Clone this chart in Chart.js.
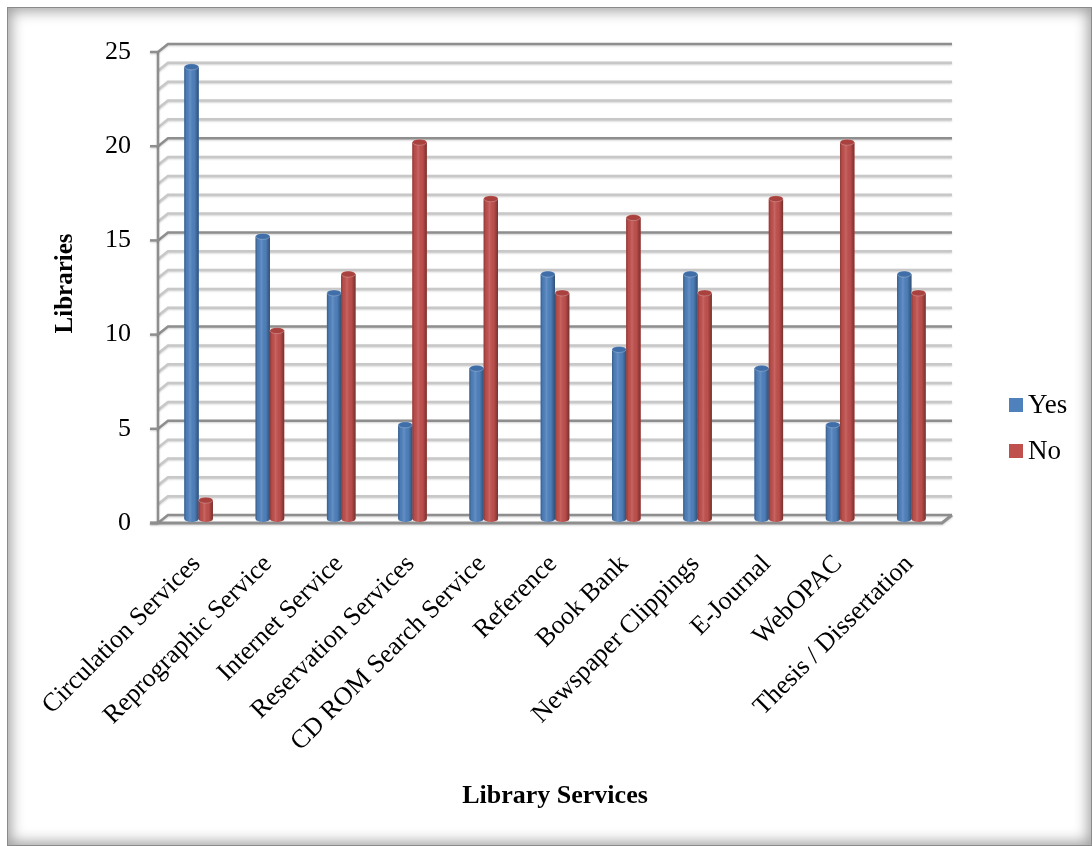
<!DOCTYPE html>
<html>
<head>
<meta charset="utf-8">
<script src="https://cdn.jsdelivr.net/npm/chart.js@4.4.1/dist/chart.umd.min.js"></script>
<style>
  html, body { margin: 0; padding: 0; background: #fff; }
  #wrap { position: relative; width: 1092px; height: 846px; overflow: hidden; }
  #frame {
    position: absolute; left: 7px; top: 7px; width: 1083px; height: 837px;
    border: 1px solid #8a8a8a;
    box-shadow: inset 0 0 14px 3px rgba(0, 0, 0, 0.38);
  }
  canvas { position: absolute; left: 0; top: 0; }
</style>
</head>
<body>
<div id="wrap">
  <div id="frame"></div>
  <canvas id="chart" width="1092" height="846"></canvas>
</div>
<script>
const services = [
  "Circulation Services", "Reprographic Service", "Internet Service",
  "Reservation Services", "CD ROM Search Service", "Reference", "Book Bank",
  "Newspaper Clippings", "E-Journal", "WebOPAC", "Thesis / Dissertation"
];
const yesLibraries = [24, 15, 12, 5, 8, 13, 9, 13, 8, 5, 13];
const noLibraries = [1, 10, 13, 20, 17, 12, 16, 12, 17, 20, 12];
const yMin = 0, yMax = 25, yStep = 5;

const serif = "'Liberation Serif', 'Times New Roman', serif";
// half the depth of the 3D box: front plane sits at (-dx, +dy), back wall at (+dx, -dy)
const dx = 5, dy = 4;

// back wall, left wall, floor and front axis
const walls = {
  id: "walls",
  beforeDatasetsDraw(chart) {
    const { ctx, chartArea: a, scales: { y } } = chart;
    ctx.save();
    ctx.lineCap = "butt";
    ctx.shadowColor = "rgba(0,0,0,0.18)";
    ctx.shadowBlur = 2;
    ctx.shadowOffsetY = 1;
    for (let v = y.min; v <= y.max; v++) {
      const py = y.getPixelForValue(v);
      ctx.strokeStyle = v % yStep === 0 ? "#8e8e8e" : "#c8c8c8";
      ctx.lineWidth = 2.5;
      ctx.beginPath();
      ctx.moveTo(a.left - dx, py + dy);
      ctx.lineTo(a.left + dx, py - dy);
      ctx.lineTo(a.right + dx, py - dy);
      ctx.stroke();
    }
    const top = y.getPixelForValue(y.max), zero = y.getPixelForValue(0);
    ctx.strokeStyle = "#8e8e8e";
    ctx.lineWidth = 2.5;
    ctx.beginPath();
    ctx.moveTo(a.left - dx, top + dy);
    ctx.lineTo(a.left - dx, zero + dy);
    ctx.stroke();
    for (let v = y.min; v <= y.max; v += yStep) {
      const py = y.getPixelForValue(v) + dy;
      ctx.beginPath();
      ctx.moveTo(a.left - dx - 8, py);
      ctx.lineTo(a.left - dx, py);
      ctx.stroke();
    }
    // floor front edge and right edge
    ctx.lineWidth = 3;
    ctx.beginPath();
    ctx.moveTo(a.left - dx - 8, zero + dy);
    ctx.lineTo(a.right - dx, zero + dy);
    ctx.lineTo(a.right + dx, zero - dy);
    ctx.stroke();
    ctx.restore();
  }
};

// cylinder shading and caps on top of the flat bars
const cylinders = {
  id: "cylinders",
  afterDatasetsDraw(chart) {
    const { ctx } = chart;
    ctx.save();
    chart.data.datasets.forEach((ds, di) => {
      chart.getDatasetMeta(di).data.forEach(bar => {
        const { x, y, base, width } = bar.getProps(["x", "y", "base", "width"], true);
        const l = x - width / 2, r = x + width / 2, ry = 3;
        ctx.beginPath();
        ctx.moveTo(l, y);
        ctx.lineTo(l, base);
        ctx.ellipse(x, base, width / 2, ry, 0, Math.PI, 0, true);
        ctx.lineTo(r, y);
        ctx.closePath();
        ctx.fillStyle = ds.backgroundColor;
        ctx.fill();
        const g = ctx.createLinearGradient(l, 0, r, 0);
        g.addColorStop(0, "rgba(0,0,0,0.28)");
        g.addColorStop(0.15, "rgba(0,0,0,0.04)");
        g.addColorStop(0.4, "rgba(255,255,255,0.12)");
        g.addColorStop(0.7, "rgba(0,0,0,0.02)");
        g.addColorStop(1, "rgba(0,0,0,0.38)");
        ctx.fillStyle = g;
        ctx.fill();
        ctx.beginPath();
        ctx.ellipse(x, y, width / 2, ry, 0, 0, Math.PI * 2);
        ctx.fillStyle = ds.capColor;
        ctx.fill();
        ctx.strokeStyle = "rgba(255,255,255,0.25)";
        ctx.lineWidth = 1;
        ctx.stroke();
      });
    });
    ctx.restore();
  }
};

// legend to the right of the walls
const sideLegend = {
  id: "sideLegend",
  afterDraw(chart) {
    const { ctx, chartArea: a } = chart;
    ctx.save();
    ctx.font = "27px " + serif;
    ctx.textBaseline = "middle";
    ctx.textAlign = "left";
    chart.data.datasets.forEach((ds, i) => {
      const cy = 405 + i * 46;
      ctx.fillStyle = ds.backgroundColor;
      ctx.fillRect(a.right + 62, cy - 7, 14, 14);
      ctx.fillStyle = "#000";
      ctx.fillText(ds.label, a.right + 81, cy + 1);
    });
    ctx.restore();
  }
};

new Chart(document.getElementById("chart"), {
  type: "bar",
  data: {
    labels: services,
    datasets: [{
      label: "Yes",
      data: yesLibraries,
      backgroundColor: "#4f81bd",
      capColor: "#3f6ea8"
    }, {
      label: "No",
      data: noLibraries,
      backgroundColor: "#c0504d",
      capColor: "#a9413e"
    }]
  },
  options: {
    responsive: false,
    animation: false,
    events: [],
    layout: { padding: { left: 0, right: 145, top: 48, bottom: 0 } },
    datasets: { bar: { categoryPercentage: 0.4, barPercentage: 1, borderWidth: 0 } },
    plugins: {
      legend: { display: false },
      tooltip: { enabled: false }
    },
    scales: {
      x: {
        grid: { display: false },
        border: { display: false },
        ticks: {
          autoSkip: false,
          minRotation: 45,
          maxRotation: 45,
          padding: 22,
          labelOffset: -2,
          color: "#000",
          font: { family: serif, size: 26 }
        },
        title: {
          display: true,
          text: "Library Services",
          color: "#000",
          padding: { top: 0, bottom: 34 },
          font: { family: serif, size: 26, weight: "bold" }
        },
        afterFit(scale) { scale.height = 327; }
      },
      y: {
        min: yMin,
        max: yMax,
        grid: { display: false },
        border: { display: false },
        ticks: {
          stepSize: yStep,
          padding: 24,
          labelOffset: dy,
          color: "#000",
          font: { family: serif, size: 26 }
        },
        title: {
          display: true,
          text: "Libraries",
          color: "#000",
          padding: { top: 51, bottom: 0 },
          font: { family: serif, size: 25, weight: "bold" }
        },
        afterFit(scale) { scale.width = 163; }
      }
    }
  },
  plugins: [walls, cylinders, sideLegend]
});
</script>
</body>
</html>
